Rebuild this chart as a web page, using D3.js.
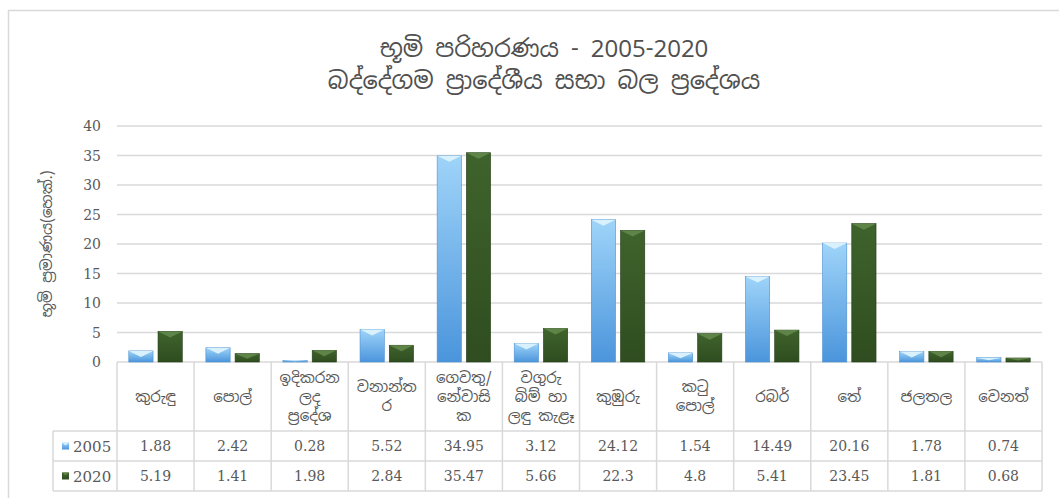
<!DOCTYPE html>
<meta charset="utf-8">
<script src="https://d3js.org/d3.v7.min.js"></script>
<style>
  body { margin: 0; background: #fff; }
  text { fill: #595959; }
</style>
<div id="chart"></div>
<script>
// data
var categories = [
  ["කුරුඳු"], ["පොල්"], ["ඉදිකරන", "ලද", "ප්‍රදේශ"], ["වනාන්ත", "ර"],
  ["ගෙවතු/", "නේවාසි", "ක"], ["වගුරු", "බිම් හා", "ලඳු කැළෑ"], ["කුඹුරු"],
  ["කටු", "පොල්"], ["රබර්"], ["තේ"], ["ජලතල"], ["වෙනත්"]
];
var seriesNames = ["2005", "2020"];
var values2005 = [1.88, 2.42, 0.28, 5.52, 34.95, 3.12, 24.12, 1.54, 14.49, 20.16, 1.78, 0.74];
var values2020 = [5.19, 1.41, 1.98, 2.84, 35.47, 5.66, 22.3, 4.8, 5.41, 23.45, 1.81, 0.68];
var yTicks = [0, 5, 10, 15, 20, 25, 30, 35, 40];
var titleLines = ["භූමි පරිහරණය - 2005-2020", "බද්දේගම ප්‍රාදේශීය සභා බල ප්‍රදේශය"];
var yTitle = "භූමි ප්‍රමාණය(හෙක්.)";

var W = 1059, H = 498;
var plot = {left: 117, right: 1042, top: 126, bottom: 362};
var rowY = [362, 431, 461, 491];
var legendLeft = 53;
var sinhala = "'Noto Sans Sinhala', 'Noto Serif Sinhala', 'Noto Sans', sans-serif";
var numFont = "'DejaVu Serif', serif";
var grid = "#d9d9d9";

var svg = d3.select("#chart").append("svg")
  .attr("width", W).attr("height", H);

// gradients
var defs = svg.append("defs");
function grad(id, stops) {
  var g = defs.append("linearGradient").attr("id", id)
    .attr("x1", 0).attr("y1", 0).attr("x2", 0).attr("y2", 1);
  stops.forEach(function(s) {
    g.append("stop").attr("offset", s[0]).attr("stop-color", s[1]);
  });
}
grad("g2005", [[0, "#9fd4f9"], [1, "#4b95dc"]]);
grad("g2020", [[0, "#3f632c"], [1, "#2f4d20"]]);
var topColor = {"2005": "#d8f1fd", "2020": "#5f8447"};
var edgeColor = {"2005": "#4d8fcf", "2020": "#243d18"};

// outer frame (only top/left visible)
svg.append("rect").attr("x", 8.5).attr("y", 10.5)
  .attr("width", 1060).attr("height", 500)
  .attr("fill", "none").attr("stroke", grid).attr("stroke-width", 1.5);

// scales
var x = d3.scaleBand().domain(d3.range(categories.length))
  .range([plot.left, plot.right]);
var xs = d3.scaleBand().domain(seriesNames)
  .range([11.8, x.bandwidth() - 11.8]).paddingInner(0.17);
var y = d3.scaleLinear().domain([0, 40]).range([plot.bottom, plot.top]);

// title
svg.append("g").selectAll("text").data(titleLines).join("text")
  .attr("x", 544).attr("y", function(d, i) { return 57 + i * 32; })
  .attr("text-anchor", "middle")
  .style("font-family", sinhala).style("font-size", "24px")
  .style("fill", "#505050")
  .text(function(d) { return d; });

// gridlines + ticks
svg.append("g").selectAll("line").data(yTicks).join("line")
  .attr("x1", plot.left).attr("x2", plot.right)
  .attr("y1", function(d) { return y(d); }).attr("y2", function(d) { return y(d); })
  .attr("stroke", grid).attr("stroke-width", 1.5);

svg.append("g").selectAll("text").data(yTicks).join("text")
  .attr("x", 101).attr("y", function(d) { return y(d) + 5; })
  .attr("text-anchor", "end")
  .style("font-family", numFont).style("font-size", "14px")
  .text(function(d) { return d; });

svg.append("text")
  .attr("transform", "translate(52," + ((plot.top + plot.bottom) / 2) + ") rotate(-90)")
  .attr("text-anchor", "middle")
  .style("font-family", sinhala).style("font-size", "15px")
  .text(yTitle);

// bars
var data = seriesNames.map(function(s, si) {
  var vals = si === 0 ? values2005 : values2020;
  return vals.map(function(v, i) { return {s: s, i: i, v: v}; });
});
var flat = d3.merge(data);
var bars = svg.append("g");
flat.forEach(function(d) {
  var x0 = x(d.i) + xs(d.s), bw = xs.bandwidth();
  var y0 = y(d.v), h = y(0) - y(d.v);
  bars.append("rect")
    .attr("x", x0).attr("y", y0).attr("width", bw).attr("height", h)
    .attr("fill", "url(#g" + d.s + ")")
    .attr("stroke", edgeColor[d.s]).attr("stroke-width", 0.6);
  var dep = Math.min(6, h * 0.6);
  bars.append("path")
    .attr("d", "M" + x0 + "," + y0 + "L" + (x0 + bw) + "," + y0 +
      "L" + (x0 + bw / 2) + "," + (y0 + dep) + "Z")
    .attr("fill", topColor[d.s]);
});

// data table
var table = svg.append("g");
// vertical lines
d3.range(categories.length + 1).forEach(function(i) {
  var xx = i < categories.length ? x(i) : plot.right;
  table.append("line")
    .attr("x1", xx).attr("x2", xx).attr("y1", rowY[0]).attr("y2", rowY[3])
    .attr("stroke", grid).attr("stroke-width", 1.5);
});
table.append("line")
  .attr("x1", legendLeft).attr("x2", legendLeft).attr("y1", rowY[1]).attr("y2", rowY[3])
  .attr("stroke", grid).attr("stroke-width", 1.5);
[rowY[1], rowY[2], rowY[3]].forEach(function(yy) {
  table.append("line")
    .attr("x1", legendLeft).attr("x2", plot.right).attr("y1", yy).attr("y2", yy)
    .attr("stroke", grid).attr("stroke-width", 1.5);
});

// category labels
categories.forEach(function(lines, i) {
  var cx = x(i) + x.bandwidth() / 2;
  var cy = (rowY[0] + rowY[1]) / 2;
  var lh = 19;
  lines.forEach(function(t, k) {
    table.append("text")
      .attr("x", cx).attr("y", cy + (k - (lines.length - 1) / 2) * lh + 5)
      .attr("text-anchor", "middle")
      .style("font-family", sinhala).style("font-size", "15px")
      .text(t);
  });
});

// values and legend keys
data.forEach(function(row, si) {
  var cy = (rowY[si + 1] + rowY[si + 2]) / 2;
  row.forEach(function(d) {
    table.append("text")
      .attr("x", x(d.i) + x.bandwidth() / 2).attr("y", cy + 5)
      .attr("text-anchor", "middle")
      .style("font-family", numFont).style("font-size", "14px")
      .text(d.v);
  });
  table.append("rect")
    .attr("x", 62).attr("y", cy - 3.5).attr("width", 7).attr("height", 7)
    .attr("fill", "url(#g" + seriesNames[si] + ")");
  table.append("path")
    .attr("d", "M62," + (cy - 3.5) + "L69," + (cy - 3.5) + "L65.5," + (cy - 0.5) + "Z")
    .attr("fill", topColor[seriesNames[si]]);
  table.append("text")
    .attr("x", 73).attr("y", cy + 5.5)
    .style("font-family", numFont).style("font-size", "15px")
    .text(seriesNames[si]);
});
</script>
